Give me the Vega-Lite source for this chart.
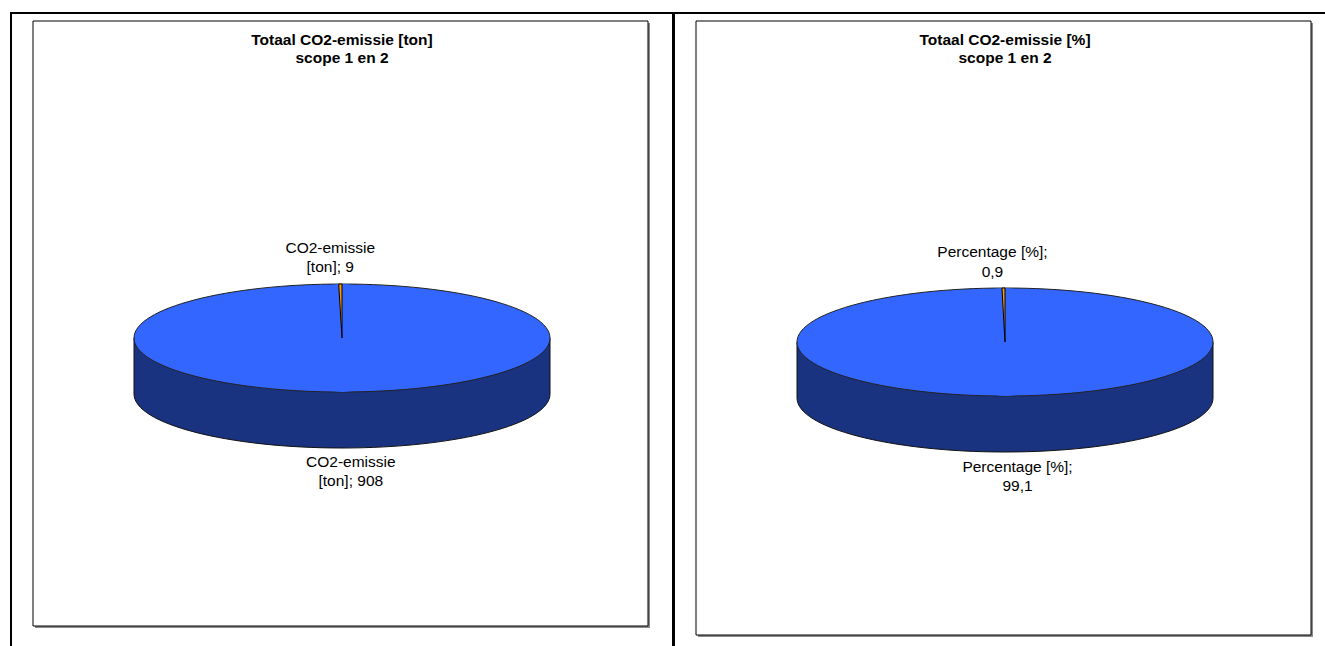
{
  "$schema": "https://vega.github.io/schema/vega-lite/v6.json",
  "background": "white",
  "padding": {"left": 10, "top": 12, "right": 0, "bottom": 0},
  "spacing": -2,
  "config": {
    "font": "Liberation Sans",
    "view": {"stroke": "#000", "strokeWidth": 2},
    "title": {
      "font": "Liberation Sans",
      "fontSize": 15.5,
      "fontWeight": "bold",
      "lineHeight": 18,
      "offset": -53,
      "anchor": "middle",
      "color": "#000"
    }
  },
  "hconcat": [
    {
      "width": 662,
      "height": 650,
      "view": {"stroke": "#000", "strokeWidth": 2},
      "title": {"text": ["Totaal CO2-emissie [ton]", "scope 1 en 2"]},
      "data": {"values": [
        {"deel": "1", "waarde": 908},
        {"deel": "2", "waarde": 9}
      ]},
      "layer": [
        {
          "data": {"values": [{}]},
          "mark": {"type": "rect", "fill": "#8a8a8a", "xOffset": 24, "x2Offset": -23, "yOffset": 10, "y2Offset": -35},
          "encoding": {"x": {"value": 0}, "x2": {"value": "width"}, "y": {"value": 0}, "y2": {"value": "height"}}
        },
        {
          "data": {"values": [{}]},
          "mark": {"type": "rect", "fill": "#fff", "stroke": "#000", "strokeWidth": 1, "xOffset": 22, "x2Offset": -25, "yOffset": 8, "y2Offset": -37},
          "encoding": {"x": {"value": 0}, "x2": {"value": "width"}, "y": {"value": 0}, "y2": {"value": "height"}}
        },
        {
          "data": {"values": [{}]},
          "mark": {
            "type": "point", "size": 4, "filled": true, "opacity": 1,
            "fill": "#1A3380", "stroke": "#111", "strokeWidth": 1,
            "shape": "M -208 0 L -208 56 C -208 85.82 -114.88 110 0 110 C 114.88 110 208 85.82 208 56 L 208 0 Z"
          },
          "encoding": {}
        },
        {
          "data": {"values": [{}]},
          "mark": {
            "type": "point", "size": 4, "filled": true, "opacity": 1,
            "fill": "#3366FF", "stroke": "#222", "strokeWidth": 1,
            "shape": "M -208 0 C -208 -29.82 -114.88 -54 0 -54 C 114.88 -54 208 -29.82 208 0 C 208 29.82 114.88 54 0 54 C -114.88 54 -208 29.82 -208 0 Z"
          },
          "encoding": {}
        },
        {
          "mark": {"type": "arc", "radius": 54, "stroke": "#000"},
          "encoding": {
            "theta": {"field": "waarde", "type": "quantitative", "stack": true},
            "order": {"field": "deel", "type": "ordinal", "sort": "ascending"},
            "color": {"field": "deel", "type": "nominal", "scale": {"domain": ["1", "2"], "range": ["#3366FF", "#FF9900"]}, "legend": null},
            "strokeWidth": {"condition": {"test": "datum.deel === '2'", "value": 1}, "value": 0}
          }
        },
        {
          "transform": [{"calculate": "'CO2-emissie\\n[ton]; ' + datum.waarde", "as": "label"}],
          "mark": {"type": "text", "radius": 90, "dx": -9, "fontSize": 15.5, "lineHeight": 19, "lineBreak": "\n", "baseline": "middle", "align": "center", "color": "#000"},
          "encoding": {
            "theta": {"field": "waarde", "type": "quantitative", "stack": true},
            "order": {"field": "deel", "type": "ordinal", "sort": "ascending"},
            "text": {"condition": {"test": "datum.deel === '2'", "field": "label", "type": "nominal"}, "value": ""}
          }
        },
        {
          "transform": [{"calculate": "'CO2-emissie\\n[ton]; ' + datum.waarde", "as": "label"}],
          "mark": {"type": "text", "radius": 124, "dx": 5, "fontSize": 15.5, "lineHeight": 19, "lineBreak": "\n", "baseline": "middle", "align": "center", "color": "#000"},
          "encoding": {
            "theta": {"field": "waarde", "type": "quantitative", "stack": true},
            "order": {"field": "deel", "type": "ordinal", "sort": "ascending"},
            "text": {"condition": {"test": "datum.deel === '1'", "field": "label", "type": "nominal"}, "value": ""}
          }
        }
      ]
    },
    {
      "width": 662,
      "height": 658,
      "view": {"stroke": "#000", "strokeWidth": 2},
      "title": {"text": ["Totaal CO2-emissie [%]", "scope 1 en 2"]},
      "data": {"values": [
        {"deel": "1", "waarde": 99.1},
        {"deel": "2", "waarde": 0.9}
      ]},
      "layer": [
        {
          "data": {"values": [{}]},
          "mark": {"type": "rect", "fill": "#8a8a8a", "xOffset": 24, "x2Offset": -23, "yOffset": 10, "y2Offset": -34},
          "encoding": {"x": {"value": 0}, "x2": {"value": "width"}, "y": {"value": 0}, "y2": {"value": "height"}}
        },
        {
          "data": {"values": [{}]},
          "mark": {"type": "rect", "fill": "#fff", "stroke": "#000", "strokeWidth": 1, "xOffset": 22, "x2Offset": -25, "yOffset": 8, "y2Offset": -36},
          "encoding": {"x": {"value": 0}, "x2": {"value": "width"}, "y": {"value": 0}, "y2": {"value": "height"}}
        },
        {
          "data": {"values": [{}]},
          "mark": {
            "type": "point", "size": 4, "filled": true, "opacity": 1,
            "fill": "#1A3380", "stroke": "#111", "strokeWidth": 1,
            "shape": "M -208 0 L -208 56 C -208 85.82 -114.88 110 0 110 C 114.88 110 208 85.82 208 56 L 208 0 Z"
          },
          "encoding": {}
        },
        {
          "data": {"values": [{}]},
          "mark": {
            "type": "point", "size": 4, "filled": true, "opacity": 1,
            "fill": "#3366FF", "stroke": "#222", "strokeWidth": 1,
            "shape": "M -208 0 C -208 -29.82 -114.88 -54 0 -54 C 114.88 -54 208 -29.82 208 0 C 208 29.82 114.88 54 0 54 C -114.88 54 -208 29.82 -208 0 Z"
          },
          "encoding": {}
        },
        {
          "mark": {"type": "arc", "radius": 54, "stroke": "#000"},
          "encoding": {
            "theta": {"field": "waarde", "type": "quantitative", "stack": true},
            "order": {"field": "deel", "type": "ordinal", "sort": "ascending"},
            "color": {"field": "deel", "type": "nominal", "scale": {"domain": ["1", "2"], "range": ["#3366FF", "#FFFF00"]}, "legend": null},
            "strokeWidth": {"condition": {"test": "datum.deel === '2'", "value": 1}, "value": 0}
          }
        },
        {
          "transform": [{"calculate": "'Percentage [%];\\n' + replace(format(datum.waarde, '.1f'), '.', ',')", "as": "label"}],
          "mark": {"type": "text", "radius": 90, "dx": -10, "fontSize": 15.5, "lineHeight": 19.5, "lineBreak": "\n", "baseline": "middle", "align": "center", "color": "#000"},
          "encoding": {
            "theta": {"field": "waarde", "type": "quantitative", "stack": true},
            "order": {"field": "deel", "type": "ordinal", "sort": "ascending"},
            "text": {"condition": {"test": "datum.deel === '2'", "field": "label", "type": "nominal"}, "value": ""}
          }
        },
        {
          "transform": [{"calculate": "'Percentage [%];\\n' + replace(format(datum.waarde, '.1f'), '.', ',')", "as": "label"}],
          "mark": {"type": "text", "radius": 125, "dx": 9, "fontSize": 15.5, "lineHeight": 19.5, "lineBreak": "\n", "baseline": "middle", "align": "center", "color": "#000"},
          "encoding": {
            "theta": {"field": "waarde", "type": "quantitative", "stack": true},
            "order": {"field": "deel", "type": "ordinal", "sort": "ascending"},
            "text": {"condition": {"test": "datum.deel === '1'", "field": "label", "type": "nominal"}, "value": ""}
          }
        }
      ]
    }
  ]
}
